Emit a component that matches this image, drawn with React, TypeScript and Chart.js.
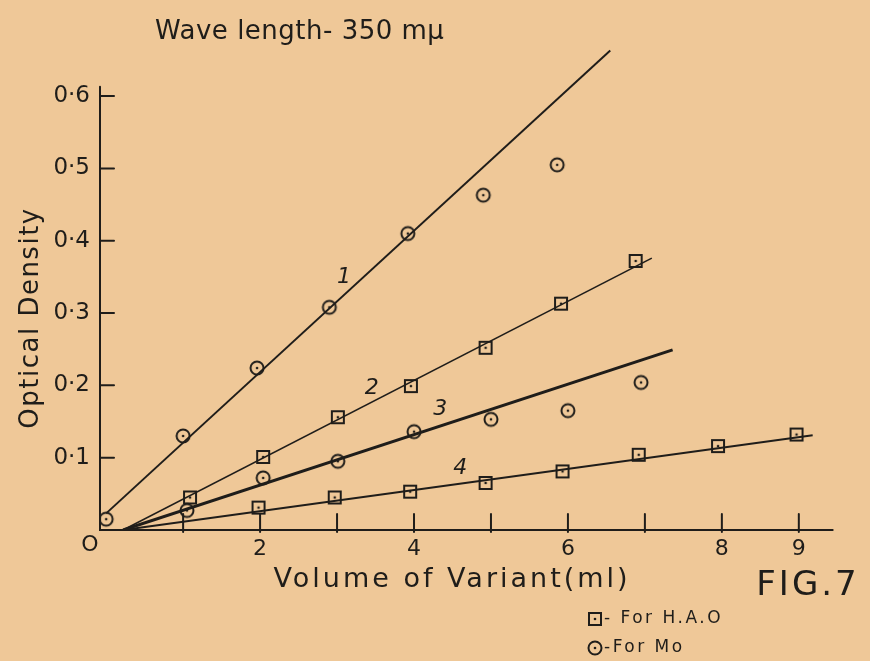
import React, { useEffect, useRef } from "react";
import { Chart, registerables } from "chart.js";

Chart.register(...registerables);

// ---- data ----
const line1X = [0, 6.55];
const line1Y = [0.023, 0.663];
const line2X = [0.22, 7.09];
const line2Y = [0, 0.376];
const line3X = [0.22, 7.36];
const line3Y = [0, 0.249];
const line4X = [0.22, 9.18];
const line4Y = [0, 0.131];

const hao2X = [1.09, 2.04, 3.01, 3.96, 4.93, 5.91, 6.88];
const hao2Y = [0.045, 0.101, 0.156, 0.199, 0.252, 0.313, 0.372];
const hao4X = [1.98, 2.97, 3.95, 4.93, 5.93, 6.92, 7.95, 8.97];
const hao4Y = [0.031, 0.045, 0.053, 0.065, 0.081, 0.104, 0.116, 0.132];
const mo1X = [0, 1, 1.96, 2.9, 3.92, 4.9, 5.86];
const mo1Y = [0.015, 0.13, 0.224, 0.308, 0.41, 0.463, 0.505];
const mo3X = [1.05, 2.04, 3.01, 4.0, 5.0, 6.0, 6.95];
const mo3Y = [0.027, 0.072, 0.095, 0.136, 0.153, 0.165, 0.204];

const xTickLabels = ["", "", "2", "", "4", "", "6", "", "8", "9"];
const yTickLabels = ["", "0·1", "0·2", "0·3", "0·4", "0·5", "0·6", ""];
const lineLabels = ["1", "2", "3", "4"];
const lineLabelX = [3.09, 3.45, 4.34, 4.6];
const lineLabelY = [0.349, 0.196, 0.167, 0.085];

const TITLE = "Wave length- 350 mμ";
const Y_TITLE = "Optical Density";
const X_TITLE = "Volume of Variant(ml)";
const FIG = "FIG.7";
const LEGEND = ["- For H.A.O", "-For Mo"];

const INK = "#1f1d1a";
const BG = "#EFC898";
const FONT = "'DejaVu Sans', sans-serif";

const zip = (xs: number[], ys: number[]) => xs.map((x, i) => ({ x, y: ys[i] }));

function makeCircle(): HTMLCanvasElement {
  const c = document.createElement("canvas");
  c.width = 20;
  c.height = 20;
  const g = c.getContext("2d")!;
  g.strokeStyle = INK;
  g.lineWidth = 2;
  g.beginPath();
  g.arc(10, 10, 6.5, 0, Math.PI * 2);
  g.stroke();
  g.fillStyle = INK;
  g.beginPath();
  g.arc(10, 10, 1.3, 0, Math.PI * 2);
  g.fill();
  return c;
}

function makeSquare(): HTMLCanvasElement {
  const c = document.createElement("canvas");
  c.width = 18;
  c.height = 18;
  const g = c.getContext("2d")!;
  g.strokeStyle = INK;
  g.lineWidth = 2;
  g.strokeRect(3, 3, 12, 12);
  g.fillStyle = INK;
  g.beginPath();
  g.arc(9, 9, 1.3, 0, Math.PI * 2);
  g.fill();
  return c;
}

export default function App() {
  const ref = useRef<HTMLCanvasElement | null>(null);

  useEffect(() => {
    if (!ref.current) return;
    const circle = makeCircle();
    const square = makeSquare();

    const lineDs = (xs: number[], ys: number[], w: number) => ({
      type: "line" as const,
      data: zip(xs, ys),
      showLine: true,
      borderColor: INK,
      borderWidth: w,
      pointRadius: 0,
      fill: false,
      tension: 0,
    });
    const ptDs = (xs: number[], ys: number[], img: HTMLCanvasElement) => ({
      type: "scatter" as const,
      data: zip(xs, ys),
      pointStyle: img,
      pointRadius: 8,
      showLine: false,
    });

    const drawPlugin = {
      id: "paper",
      beforeDraw(chart: any) {
        const ctx = chart.ctx;
        ctx.save();
        ctx.fillStyle = BG;
        ctx.fillRect(0, 0, chart.width, chart.height);
        ctx.restore();
      },
      afterDatasetsDraw(chart: any) {
        const ctx = chart.ctx;
        const xs = chart.scales.x;
        const ys = chart.scales.y;
        const left = chart.chartArea.left;
        const y0 = ys.getPixelForValue(0);
        ctx.save();
        ctx.strokeStyle = INK;
        ctx.lineWidth = 2;
        ctx.lineCap = "round";
        // axes
        ctx.beginPath();
        ctx.moveTo(left, ys.getPixelForValue(0.613));
        ctx.lineTo(left, y0);
        ctx.lineTo(xs.getPixelForValue(9.44), y0);
        ctx.stroke();
        // x ticks (upward)
        for (let v = 1; v <= 9; v++) {
          const px = xs.getPixelForValue(v);
          ctx.beginPath();
          ctx.moveTo(px, y0 + 2);
          ctx.lineTo(px, y0 - 16);
          ctx.stroke();
        }
        // y ticks (inward)
        for (let i = 1; i <= 6; i++) {
          const py = ys.getPixelForValue(i / 10);
          ctx.beginPath();
          ctx.moveTo(left, py);
          ctx.lineTo(left + 14, py);
          ctx.stroke();
        }

        ctx.fillStyle = INK;
        // line labels
        ctx.font = `italic 22px ${FONT}`;
        ctx.textAlign = "center";
        ctx.textBaseline = "middle";
        lineLabels.forEach((t, i) => {
          ctx.fillText(t, xs.getPixelForValue(lineLabelX[i]), ys.getPixelForValue(lineLabelY[i]));
        });

        // origin label
        ctx.font = `22px ${FONT}`;
        ctx.fillText("O", 90, 545);

        // title
        ctx.textAlign = "left";
        ctx.textBaseline = "alphabetic";
        ctx.font = `26px ${FONT}`;
        (ctx as any).letterSpacing = "0.5px";
        ctx.fillText(TITLE, 155, 39);

        // x title
        ctx.textAlign = "center";
        ctx.textBaseline = "middle";
        (ctx as any).letterSpacing = "3px";
        ctx.font = `27px ${FONT}`;
        ctx.fillText(X_TITLE, 452, 580);

        // FIG
        (ctx as any).letterSpacing = "3px";
        ctx.font = `34px ${FONT}`;
        ctx.fillText(FIG, 808, 586);

        // y title
        (ctx as any).letterSpacing = "1.5px";
        ctx.save();
        ctx.translate(31, 318);
        ctx.rotate(-Math.PI / 2);
        ctx.font = `26px ${FONT}`;
        ctx.fillText(Y_TITLE, 0, 0);
        ctx.restore();

        // legend
        (ctx as any).letterSpacing = "2.5px";
        ctx.font = `17px ${FONT}`;
        ctx.textAlign = "left";
        ctx.drawImage(square, 595 - 9, 619 - 9);
        ctx.fillText(LEGEND[0], 604, 619);
        ctx.drawImage(circle, 595 - 10, 648 - 10);
        ctx.fillText(LEGEND[1], 604, 648);
        ctx.restore();
      },
    };

    const chart = new Chart(ref.current, {
      type: "scatter",
      data: {
        datasets: [
          lineDs(line1X, line1Y, 2),
          lineDs(line2X, line2Y, 1.6),
          lineDs(line3X, line3Y, 3),
          lineDs(line4X, line4Y, 2),
          ptDs(mo1X, mo1Y, circle),
          ptDs(hao2X, hao2Y, square),
          ptDs(mo3X, mo3Y, circle),
          ptDs(hao4X, hao4Y, square),
        ] as any,
      },
      options: {
        responsive: false,
        animation: false,
        events: [],
        layout: { padding: { left: 0, right: 25, top: 5, bottom: 0 } },
        plugins: { legend: { display: false }, tooltip: { enabled: false }, title: { display: false } },
        scales: {
          x: {
            type: "linear",
            min: -0.08,
            max: 9.6,
            grid: { display: false, drawTicks: false },
            border: { display: false },
            afterFit: (s: any) => {
              s.height = 131;
            },
            ticks: {
              stepSize: 1,
              includeBounds: false,
              autoSkip: false,
              maxRotation: 0,
              padding: 6,
              color: INK,
              font: { family: FONT, size: 22 },
              callback: (v: any) => {
                const i = Math.round(Number(v));
                return Math.abs(Number(v) - i) < 1e-6 && i >= 0 && i < xTickLabels.length ? xTickLabels[i] : "";
              },
            },
          },
          y: {
            type: "linear",
            min: 0,
            max: 0.7,
            grid: { display: false, drawTicks: false },
            border: { display: false },
            afterFit: (s: any) => {
              s.width = 100;
            },
            ticks: {
              stepSize: 0.1,
              autoSkip: false,
              padding: 10,
              color: INK,
              font: { family: FONT, size: 23 },
              callback: (v: any) => {
                const i = Math.round(Number(v) * 10);
                return i >= 0 && i < yTickLabels.length ? yTickLabels[i] : "";
              },
            },
          },
        },
      },
      plugins: [drawPlugin],
    });
    return () => chart.destroy();
  }, []);

  return (
    <div style={{ position: "fixed", left: 0, top: 0, width: 870, height: 661, background: BG }}>
      <canvas ref={ref} width={870} height={661} style={{ display: "block" }} />
    </div>
  );
}
